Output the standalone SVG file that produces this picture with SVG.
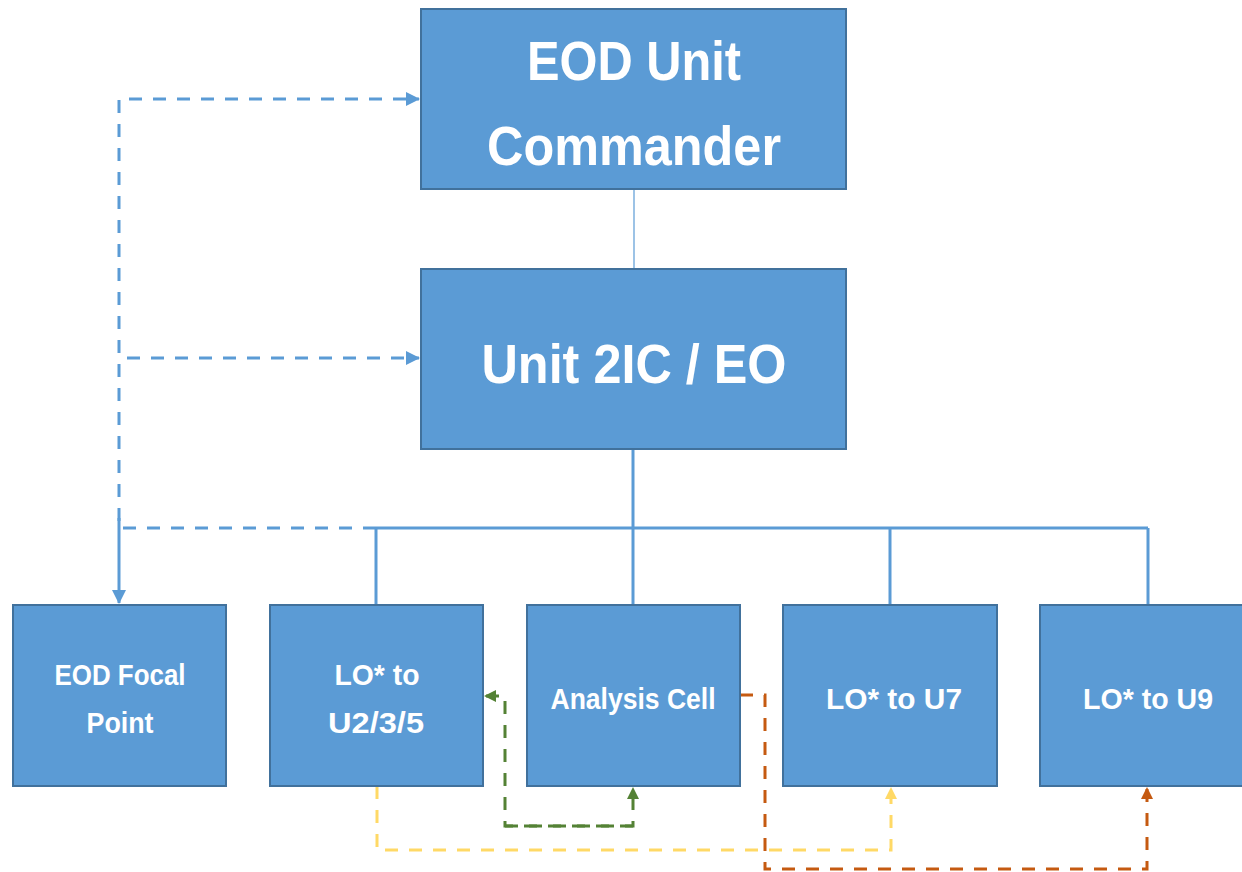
<svg xmlns="http://www.w3.org/2000/svg" width="1242" height="872" viewBox="0 0 1242 872">
<style>
.box{fill:#5B9BD5;stroke:#41719C;stroke-width:2}
.t{fill:#FFFFFF;font-family:"Liberation Sans",Arial,sans-serif;font-weight:bold;text-anchor:middle}
.big{font-size:56px}
.sm{font-size:30px}
.ln{fill:none;stroke:#5B9BD5;stroke-width:3}
.dash{stroke-dasharray:13 11}
.g{fill:none;stroke:#548235;stroke-width:3;stroke-dasharray:13 11}
.y{fill:none;stroke:#FFD966;stroke-width:3;stroke-dasharray:13 11}
.o{fill:none;stroke:#C55A11;stroke-width:3;stroke-dasharray:13 11}
</style>
<defs>
<marker id="ab" markerUnits="userSpaceOnUse" markerWidth="14" markerHeight="14" viewBox="0 0 14 14" refX="13" refY="7" orient="auto"><path d="M0,0 L14,7 L0,14 z" fill="#5B9BD5"/></marker>
<marker id="ag" markerUnits="userSpaceOnUse" markerWidth="12" markerHeight="12" viewBox="0 0 12 12" refX="11" refY="6" orient="auto"><path d="M0,0 L12,6 L0,12 z" fill="#548235"/></marker>
<marker id="ay" markerUnits="userSpaceOnUse" markerWidth="12" markerHeight="12" viewBox="0 0 12 12" refX="11" refY="6" orient="auto"><path d="M0,0 L12,6 L0,12 z" fill="#FFD966"/></marker>
<marker id="ao" markerUnits="userSpaceOnUse" markerWidth="12" markerHeight="12" viewBox="0 0 12 12" refX="11" refY="6" orient="auto"><path d="M0,0 L12,6 L0,12 z" fill="#C55A11"/></marker>
</defs>

<g id="connectors">
<line x1="634" y1="189" x2="634" y2="269" stroke="#5B9BD5" stroke-width="1.2"/>
<path class="ln" d="M633,449 V605"/>
<path class="ln" d="M376,528 H1148"/>
<path class="ln" d="M376,528 V605"/>
<path class="ln" d="M890,528 V605"/>
<path class="ln" d="M1148,528 V605"/>
<path class="ln dash" d="M376,528 H119 V99 H419" marker-end="url(#ab)"/>
<path class="ln dash" d="M127,358 H419" marker-end="url(#ab)"/>
<path class="ln" d="M119,518 V603" marker-end="url(#ab)"/>
<path class="g" d="M633,826 H505 V696 H485" marker-end="url(#ag)"/>
<path class="g" d="M505,826 H633 V788" marker-end="url(#ag)"/>
<path class="y" d="M377,786 V850 H891 V788" marker-end="url(#ay)"/>
<path class="o" d="M740,695 H765 V869 H1147 V788" marker-end="url(#ao)"/>
</g>

<g id="n-commander">
<rect class="box" x="421" y="9" width="425" height="180"/>
<text class="t big" x="634" y="80" textLength="214" lengthAdjust="spacingAndGlyphs">EOD Unit</text>
<text class="t big" x="634" y="165" textLength="294" lengthAdjust="spacingAndGlyphs">Commander</text>
</g>
<g id="n-2ic">
<rect class="box" x="421" y="269" width="425" height="180"/>
<text class="t big" x="634" y="383" textLength="305" lengthAdjust="spacingAndGlyphs">Unit 2IC / EO</text>
</g>
<g id="n-focal">
<rect class="box" x="13" y="605" width="213" height="181"/>
<text class="t sm" x="120" y="685" textLength="131" lengthAdjust="spacingAndGlyphs">EOD Focal</text>
<text class="t sm" x="120" y="733" textLength="67" lengthAdjust="spacingAndGlyphs">Point</text>
</g>
<g id="n-lo235">
<rect class="box" x="270" y="605" width="213" height="181"/>
<text class="t sm" x="377" y="685" textLength="85" lengthAdjust="spacingAndGlyphs">LO* to</text>
<text class="t sm" x="376" y="733" textLength="96" lengthAdjust="spacingAndGlyphs">U2/3/5</text>
</g>
<g id="n-analysis">
<rect class="box" x="527" y="605" width="213" height="181"/>
<text class="t sm" x="633" y="709" textLength="165" lengthAdjust="spacingAndGlyphs">Analysis Cell</text>
</g>
<g id="n-lo7">
<rect class="box" x="783" y="605" width="214" height="181"/>
<text class="t sm" x="894" y="709" textLength="136" lengthAdjust="spacingAndGlyphs">LO* to U7</text>
</g>
<g id="n-lo9">
<rect class="box" x="1040" y="605" width="213" height="181"/>
<text class="t sm" x="1148" y="709" textLength="130" lengthAdjust="spacingAndGlyphs">LO* to U9</text>
</g>
</svg>
